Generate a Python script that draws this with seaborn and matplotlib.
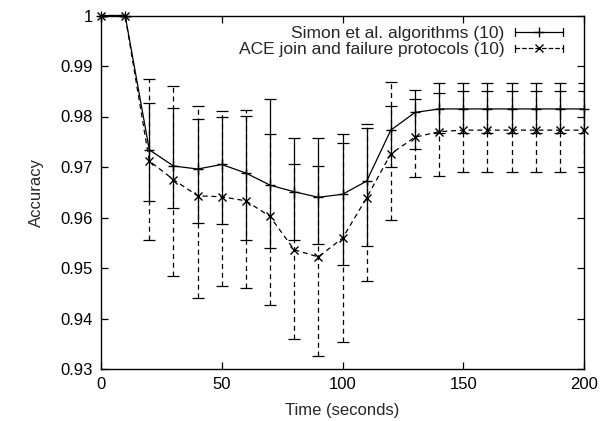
import numpy as np
import pandas as pd
import matplotlib
matplotlib.use("Agg")
import matplotlib.pyplot as plt
import seaborn as sns
from matplotlib.legend_handler import HandlerBase
from matplotlib.lines import Line2D

# ---- data ----
time_s = [0, 10, 20, 30, 40, 50, 60, 70, 80, 90, 100, 110, 120, 130, 140, 150, 160, 170, 180, 190, 200]

simon_mean = [1.0, 1.0, 0.9734, 0.9702, 0.9696, 0.9705, 0.9688, 0.9664, 0.9651, 0.9640, 0.9646,
              0.9672, 0.9773, 0.9808, 0.9815, 0.9815, 0.9815, 0.9815, 0.9815, 0.9815, 0.9815]
simon_low = [1.0, 1.0, 0.9633, 0.9618, 0.9590, 0.9587, 0.9556, 0.9540, 0.9556, 0.9547, 0.9505,
             0.9544, 0.9700, 0.9736, 0.9768, 0.9768, 0.9768, 0.9768, 0.9768, 0.9768, 0.9768]
simon_high = [1.0, 1.0, 0.9827, 0.9816, 0.9795, 0.9800, 0.9801, 0.9835, 0.9758, 0.9758, 0.9766,
              0.9778, 0.9821, 0.9853, 0.9867, 0.9867, 0.9867, 0.9867, 0.9867, 0.9867, 0.9867]

ace_mean = [1.0, 1.0, 0.9712, 0.9675, 0.9643, 0.9641, 0.9633, 0.9602, 0.9536, 0.9522, 0.9559,
            0.9639, 0.9726, 0.9759, 0.9770, 0.9773, 0.9773, 0.9773, 0.9773, 0.9773, 0.9773]
ace_low = [1.0, 1.0, 0.9556, 0.9484, 0.9441, 0.9465, 0.9461, 0.9426, 0.9359, 0.9326, 0.9353,
           0.9474, 0.9595, 0.9680, 0.9683, 0.9690, 0.9690, 0.9690, 0.9690, 0.9690, 0.9690]
ace_high = [1.0, 1.0, 0.9874, 0.9860, 0.9821, 0.9811, 0.9813, 0.9766, 0.9705, 0.9701, 0.9747,
            0.9785, 0.9868, 0.9834, 0.9847, 0.9850, 0.9850, 0.9850, 0.9850, 0.9850, 0.9850]

series_labels = ["Simon et al. algorithms (10)", "ACE join and failure protocols (10)"]
x_ticks = [0, 50, 100, 150, 200]
y_ticks = [0.93, 0.94, 0.95, 0.96, 0.97, 0.98, 0.99, 1.0]
y_tick_labels = ["0.93", "0.94", "0.95", "0.96", "0.97", "0.98", "0.99", "1"]
x_label = "Time (seconds)"
y_label = "Accuracy"

# ---- styling ----
sns.set_theme(style="ticks")
plt.rcParams['font.family'] = ['Liberation Sans', 'DejaVu Sans']
plt.rcParams['font.size'] = 12

fig = plt.figure(figsize=(6.09, 4.21), dpi=100)
ax = fig.add_axes([101 / 609, 1 - 369 / 421, (584 - 101) / 609, (369 - 15.5) / 421])

df = pd.DataFrame({
    "time": time_s * 2,
    "acc": simon_mean + ace_mean,
    "series": [series_labels[0]] * len(time_s) + [series_labels[1]] * len(time_s),
})

DASH = (0, (4, 3))
lw = 0.9

sns.lineplot(data=df[df.series == series_labels[0]], x="time", y="acc", ax=ax,
             color="black", linewidth=lw, linestyle="-", marker="+", markersize=7,
             markeredgewidth=1.0, markeredgecolor="black", legend=False, clip_on=False)
sns.lineplot(data=df[df.series == series_labels[1]], x="time", y="acc", ax=ax,
             color="black", linewidth=lw, linestyle=DASH, marker="x", markersize=5.5,
             markeredgewidth=1.0, markeredgecolor="black", legend=False, clip_on=False)

sm = np.array(simon_mean)
am = np.array(ace_mean)
ax.errorbar(time_s, sm, yerr=[sm - np.array(simon_low), np.array(simon_high) - sm],
            fmt="none", ecolor="black", elinewidth=lw, capsize=4.5, capthick=lw)
eb = ax.errorbar(time_s, am, yerr=[am - np.array(ace_low), np.array(ace_high) - am],
                 fmt="none", ecolor="black", elinewidth=lw, capsize=4.5, capthick=lw)
eb[2][0].set_linestyle(DASH)

ax.set_xlim(0, 200)
ax.set_ylim(0.93, 1.0)
ax.set_xticks(x_ticks)
ax.set_yticks(y_ticks)
ax.set_yticklabels(y_tick_labels)
ax.tick_params(direction="in", length=5, width=0.9, top=True, right=True,
               labelsize=12, pad=6, colors="black")
for s in ax.spines.values():
    s.set_visible(True)
    s.set_linewidth(1.0)
    s.set_color("black")
ax.set_xlabel(x_label, fontsize=12, labelpad=8)
ax.set_ylabel(y_label, fontsize=12, labelpad=12)
ax.grid(False)


class GnuHandler(HandlerBase):
    def create_artists(self, legend, orig_handle, xdescent, ydescent, width, height,
                       fontsize, trans):
        y = height / 2 - ydescent
        x0, x1 = -xdescent, width - xdescent
        ls = orig_handle.get_linestyle()
        main = Line2D([x0, x1], [y, y], color="black", linewidth=lw, linestyle=ls)
        cap = height * 0.3
        c1 = Line2D([x0, x0], [y - cap, y + cap], color="black", linewidth=lw)
        c2 = Line2D([x1, x1], [y - cap, y + cap], color="black", linewidth=lw)
        mk = Line2D([(x0 + x1) / 2], [y], color="black", linestyle="none",
                    marker=orig_handle.get_marker(), markersize=orig_handle.get_markersize(),
                    markeredgewidth=1.0)
        arts = [main, c1, c2, mk]
        for a in arts:
            a.set_transform(trans)
        return arts


h1 = Line2D([], [], linestyle="-", marker="+", markersize=7)
h2 = Line2D([], [], linestyle="--", marker="x", markersize=5.5)
leg = fig.legend([h1, h2], series_labels, loc="upper right",
                 bbox_to_anchor=(563 / 609, 1 - 26 / 421),
                 frameon=False, markerfirst=False, fontsize=12.5,
                 handlelength=2.76, handletextpad=0.63, labelspacing=0.06,
                 borderpad=0, borderaxespad=0,
                 handler_map={Line2D: GnuHandler()})
for t in leg.get_texts():
    t.set_ha("right")
leg._legend_box.align = "right"

fig.savefig("out.png", dpi=100)
